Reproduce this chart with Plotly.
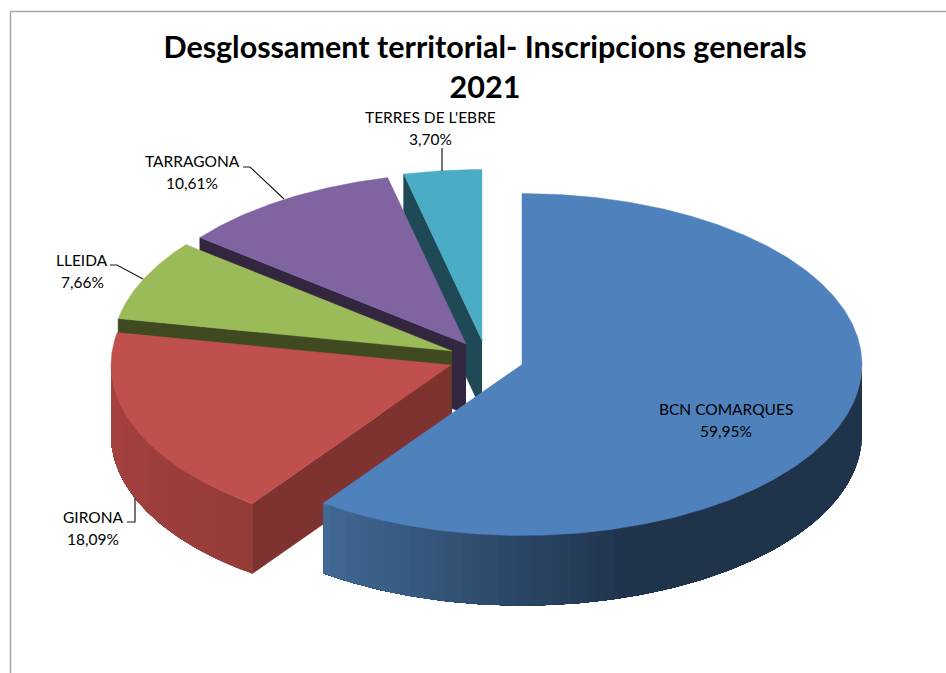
import numpy as np
import plotly.graph_objects as go

# ---- data ----
territories = ["BCN COMARQUES", "GIRONA", "LLEIDA", "TARRAGONA", "TERRES DE L'EBRE"]
shares = [59.95, 18.09, 7.66, 10.61, 3.70]
title_lines = ["Desglossament territorial- Inscripcions generals", "2021"]

# ---- styling and layout ----
top_colors = ["#4F81BD", "#C0504D", "#9BBB59", "#8064A2", "#4BACC6"]
radial_wall_colors = ["#1F334A", "#7F3330", "#3F4A20", "#33263F", "#1F4A55"]
slice_cx = [522, 451, 452, 466, 482]      # exploded slice tip, x (page px)
slice_cy = [364.5, 365, 351, 344, 340.5]  # exploded slice tip, y (page px)
RX, RY, DEPTH = 340, 171, 70
# outer wall shading: (theta in degrees clockwise from 12 o'clock, rgb)
wall_shades = {
    0: [(90, (31, 51, 74)), (160, (31, 51, 74)), (215.8, (66, 106, 150))],
    1: [(215.8, (149, 60, 57)), (270, (168, 68, 66))],
}
label_pos = [(726, 420), (93, 528), (82, 271), (192, 172), (430, 128)]
LABEL_GAP = 11
leaders = [
    None,
    [(127, 522), (135, 522), (135, 498)],
    [(110, 265), (117, 265), (143, 279)],
    [(243, 167), (250, 167), (284, 199)],
    [(442, 148), (442, 171)],
]

total = sum(shares)
edges = np.concatenate([[0], np.cumsum(shares)]) / total * 360.0


def rim(i, deg):
    t = np.radians(deg)
    return slice_cx[i] + RX * np.sin(t), slice_cy[i] - RY * np.cos(t)


def shade(i, deg):
    stops = wall_shades[i]
    ds = [s[0] for s in stops]
    return "rgb(%d,%d,%d)" % tuple(np.interp(deg, ds, [s[1][c] for s in stops]) for c in range(3))


fig = go.Figure()


def poly(xs, ys, color, name=None, edge=0.6):
    fig.add_trace(go.Scatter(
        x=list(xs), y=list(ys), mode="lines", fill="toself", fillcolor=color,
        line=dict(color=color, width=edge), showlegend=False,
        name=name or "", hoverinfo="name" if name else "skip",
    ))


# painter's order: back slices first
for i in range(len(shares) - 1, -1, -1):
    a0, a1 = edges[i], edges[i + 1]
    # cut face at the slice's start angle
    if i != 0:
        rx, ry = rim(i, a0)
        poly([slice_cx[i], rx, rx, slice_cx[i]],
             [slice_cy[i], ry, ry + DEPTH, slice_cy[i] + DEPTH],
             radial_wall_colors[i])
    # outer wall, only the part facing the viewer; each band runs on to the
    # far end of the wall and is overpainted by the next, so no seams show
    w0, w1 = max(a0, 90), min(a1, 270)
    if w1 > w0:
        steps = np.linspace(w0, w1, max(int((w1 - w0) / 1.5), 2) + 1)
        for d0, d1 in zip(steps[:-1], steps[1:]):
            ds = np.linspace(d0, w1, max(int((w1 - d0) * 2), 4))
            xs, ys = rim(i, ds)
            poly(np.r_[xs, xs[::-1]], np.r_[ys, ys[::-1] + DEPTH], shade(i, (d0 + d1) / 2), edge=0)
    # top surface
    ds = np.linspace(a0, a1, max(int(a1 - a0) * 2, 4))
    xs, ys = rim(i, ds)
    poly(np.r_[slice_cx[i], xs, slice_cx[i]], np.r_[slice_cy[i], ys, slice_cy[i]],
         top_colors[i], name=f"{territories[i]}: {shares[i]:.2f}%".replace(".", ","), edge=0.4)

# leader lines
for pts in leaders:
    if pts:
        fig.add_trace(go.Scatter(
            x=[p[0] for p in pts], y=[p[1] for p in pts], mode="lines",
            line=dict(color="#1A1A1A", width=1.2), showlegend=False, hoverinfo="skip",
        ))

# data labels
LABEL_FONT = dict(family="Lato, Carlito, sans-serif", size=15.5, color="#000000")
for name, val, (lx, ly) in zip(territories, shares, label_pos):
    fig.add_annotation(x=lx, y=ly - LABEL_GAP, xref="x", yref="y", showarrow=False,
                       text=name, font=LABEL_FONT)
    fig.add_annotation(x=lx, y=ly + LABEL_GAP, xref="x", yref="y", showarrow=False,
                       text=f"{val:.2f}%".replace(".", ","), font=LABEL_FONT)

FRAME = "#A6A6A6"
shapes = [
    dict(type="line", xref="x", yref="y", x0=10.5, x1=946, y0=11.5, y1=11.5, line=dict(color=FRAME, width=1.5)),
    dict(type="line", xref="x", yref="y", x0=10.5, x1=10.5, y0=11.5, y1=673, line=dict(color=FRAME, width=1.5)),
]

fig.update_layout(
    width=946, height=673, margin=dict(l=0, r=0, t=0, b=0),
    paper_bgcolor="#FFFFFF", plot_bgcolor="#FFFFFF", shapes=shapes,
    title=dict(
        text="<b>" + "<br>".join(title_lines) + "</b>",
        x=485 / 946, xanchor="center", y=1 - 58 / 673, yanchor="top",
        font=dict(family="Lato, Carlito, sans-serif", size=30.5, color="#000000"),
    ),
    xaxis=dict(range=[0, 946], visible=False, fixedrange=True),
    yaxis=dict(range=[673, 0], visible=False, fixedrange=True),
)

fig.write_html("out.html", config={"displayModeBar": False},
               post_script="document.body.style.margin='0';")
